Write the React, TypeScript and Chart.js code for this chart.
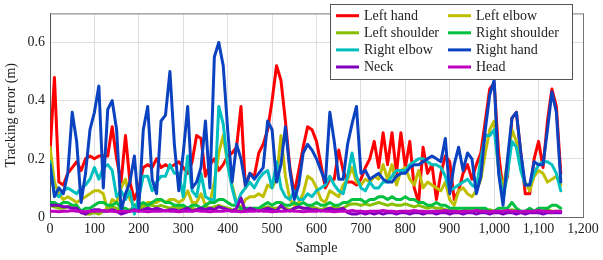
import { useEffect, useRef } from "react";
import { Chart, registerables } from "chart.js";

Chart.register(...registerables);

// ---- Data (sampled every 10 samples, from 0 to 1150) ----
const SAMPLE_STEP = 10;

const X_TICKS = [0, 100, 200, 300, 400, 500, 600, 700, 800, 900, 1000, 1100, 1200];
const X_TICK_LABELS = ["0", "100", "200", "300", "400", "500", "600", "700", "800", "900", "1,000", "1,100", "1,200"];
const Y_TICKS = [0, 0.2, 0.4, 0.6];
const Y_TICK_LABELS = ["0", "0.2", "0.4", "0.6"];

const SERIES_NAMES = ["Left hand", "Left elbow", "Left shoulder", "Right shoulder", "Right elbow", "Right hand", "Neck", "Head"];
const SERIES_COLORS = ["#ff0000", "#bfbf00", "#86c000", "#00c040", "#00bfbf", "#0b42c0", "#7f00bf", "#c000c0"];

const LEFT_HAND = [
  0.22, 0.48, 0.12, 0.11, 0.15, 0.17, 0.19, 0.16, 0.20, 0.21,
  0.20, 0.21, 0.21, 0.21, 0.31, 0.20, 0.12, 0.28, 0.12, 0.06,
  0.10, 0.17, 0.18, 0.17, 0.20, 0.17, 0.18, 0.17, 0.18, 0.19,
  0.17, 0.15, 0.19, 0.28, 0.27, 0.14, 0.18, 0.20, 0.16, 0.18,
  0.21, 0.22, 0.24, 0.38, 0.10, 0.15, 0.14, 0.22, 0.25, 0.30,
  0.40, 0.52, 0.47, 0.33, 0.17, 0.08, 0.16, 0.24, 0.31, 0.30,
  0.26, 0.18, 0.10, 0.13, 0.13, 0.23, 0.16, 0.12, 0.12, 0.11,
  0.13, 0.17, 0.20, 0.26, 0.17, 0.29, 0.18, 0.29, 0.15, 0.29,
  0.17, 0.26, 0.10, 0.05, 0.24, 0.15, 0.18, 0.06, 0.15, 0.21,
  0.19, 0.06, 0.09, 0.15, 0.18, 0.13, 0.18, 0.22, 0.33, 0.44,
  0.46, 0.22, 0.09, 0.14, 0.34, 0.36, 0.22, 0.08, 0.08, 0.20,
  0.26, 0.17, 0.33, 0.44, 0.38, 0.15,
];

const LEFT_ELBOW = [
  0.24, 0.12, 0.08, 0.06, 0.07, 0.06, 0.05, 0.06, 0.07, 0.08,
  0.09, 0.09, 0.08, 0.02, 0.06, 0.05, 0.10, 0.13, 0.06, 0.04,
  0.03, 0.04, 0.05, 0.05, 0.05, 0.06, 0.05, 0.06, 0.06, 0.05,
  0.06, 0.09, 0.05, 0.05, 0.08, 0.04, 0.05, 0.12, 0.22, 0.28,
  0.18, 0.11, 0.05, 0.03, 0.06, 0.07, 0.07, 0.08, 0.07, 0.11,
  0.10, 0.13, 0.28, 0.14, 0.06, 0.04, 0.05, 0.08, 0.14, 0.13,
  0.10, 0.06, 0.05, 0.09, 0.08, 0.07, 0.11, 0.13, 0.17, 0.12,
  0.11, 0.13, 0.12, 0.14, 0.13, 0.18, 0.13, 0.18, 0.11, 0.16,
  0.17, 0.13, 0.11, 0.16, 0.10, 0.12, 0.11, 0.10, 0.09, 0.12,
  0.06, 0.04, 0.09, 0.10, 0.08, 0.07, 0.09, 0.13, 0.22, 0.30,
  0.33, 0.16, 0.10, 0.19, 0.30, 0.26, 0.17, 0.12, 0.09, 0.14,
  0.16, 0.15, 0.12, 0.13, 0.14, 0.11,
];

const LEFT_SHOULDER = [
  0.04, 0.035, 0.03, 0.03, 0.035, 0.04, 0.03, 0.02, 0.01, 0.01,
  0.015, 0.01, 0.02, 0.03, 0.035, 0.03, 0.02, 0.02, 0.025, 0.02,
  0.03, 0.035, 0.04, 0.04, 0.035, 0.04, 0.035, 0.03, 0.035, 0.03,
  0.035, 0.03, 0.03, 0.025, 0.03, 0.035, 0.03, 0.035, 0.04, 0.035,
  0.03, 0.025, 0.02, 0.025, 0.02, 0.025, 0.03, 0.025, 0.03, 0.035,
  0.03, 0.03, 0.035, 0.03, 0.025, 0.03, 0.035, 0.03, 0.03, 0.035,
  0.03, 0.025, 0.03, 0.03, 0.035, 0.03, 0.03, 0.04, 0.045, 0.045,
  0.04, 0.045, 0.04, 0.045, 0.05, 0.045, 0.04, 0.045, 0.04, 0.04,
  0.045, 0.04, 0.035, 0.04, 0.035, 0.03, 0.035, 0.03, 0.03, 0.025,
  0.02, 0.025, 0.02, 0.02, 0.025, 0.02, 0.02, 0.025, 0.02, 0.025,
  0.02, 0.02, 0.015, 0.02, 0.025, 0.02, 0.02, 0.015, 0.02, 0.02,
  0.02, 0.02, 0.025, 0.02, 0.02, 0.02,
];

const RIGHT_SHOULDER = [
  0.05, 0.05, 0.04, 0.05, 0.05, 0.04, 0.04, 0.02, 0.03, 0.03,
  0.04, 0.05, 0.05, 0.04, 0.04, 0.05, 0.03, 0.03, 0.02, 0.04,
  0.04, 0.05, 0.04, 0.05, 0.06, 0.06, 0.05, 0.05, 0.04, 0.04,
  0.04, 0.03, 0.04, 0.04, 0.03, 0.04, 0.05, 0.05, 0.06, 0.06,
  0.05, 0.04, 0.04, 0.03, 0.03, 0.03, 0.03, 0.03, 0.04, 0.05,
  0.04, 0.05, 0.05, 0.04, 0.04, 0.05, 0.04, 0.05, 0.04, 0.04,
  0.05, 0.04, 0.04, 0.05, 0.04, 0.04, 0.05, 0.05, 0.06, 0.06,
  0.06, 0.05, 0.06, 0.06, 0.07, 0.07, 0.06, 0.07, 0.06, 0.06,
  0.07, 0.06, 0.06, 0.05, 0.05, 0.04, 0.04, 0.05, 0.04, 0.04,
  0.03, 0.03, 0.03, 0.03, 0.03, 0.03, 0.03, 0.03, 0.03, 0.02,
  0.02, 0.03, 0.03, 0.03, 0.05, 0.03, 0.02, 0.02, 0.03, 0.02,
  0.03, 0.03, 0.03, 0.04, 0.04, 0.03,
];

const RIGHT_ELBOW = [
  0.19, 0.08, 0.07, 0.09, 0.10, 0.09, 0.08, 0.10, 0.11, 0.13,
  0.17, 0.13, 0.17, 0.18, 0.16, 0.07, 0.09, 0.06, 0.09, 0.01,
  0.07, 0.14, 0.14, 0.09, 0.12, 0.14, 0.14, 0.18, 0.15, 0.15,
  0.07, 0.21, 0.09, 0.07, 0.15, 0.07, 0.06, 0.06, 0.38, 0.32,
  0.18, 0.10, 0.04, 0.08, 0.10, 0.12, 0.10, 0.13, 0.15, 0.16,
  0.10, 0.19, 0.10, 0.07, 0.06, 0.09, 0.06, 0.06, 0.08, 0.07,
  0.09, 0.10, 0.11, 0.14, 0.11, 0.09, 0.08, 0.14, 0.22, 0.14,
  0.10, 0.09, 0.12, 0.10, 0.10, 0.12, 0.12, 0.14, 0.16, 0.16,
  0.16, 0.18, 0.19, 0.20, 0.20, 0.19, 0.18, 0.18, 0.17, 0.14,
  0.09, 0.10, 0.11, 0.12, 0.13, 0.11, 0.10, 0.20, 0.28, 0.28,
  0.30, 0.17, 0.06, 0.15, 0.26, 0.24, 0.16, 0.11, 0.11, 0.15,
  0.18, 0.19, 0.19, 0.18, 0.15, 0.09,
];

const RIGHT_HAND = [
  0.18, 0.07, 0.10, 0.08, 0.15, 0.36, 0.26, 0.05, 0.15, 0.30,
  0.36, 0.45, 0.10, 0.37, 0.40, 0.30, 0.02, 0.08, 0.12, 0.21,
  0.03, 0.30, 0.38, 0.13, 0.08, 0.33, 0.35, 0.50, 0.25, 0.09,
  0.22, 0.38, 0.10, 0.12, 0.17, 0.33, 0.10, 0.55, 0.60, 0.52,
  0.30, 0.12, 0.25, 0.20, 0.11, 0.15, 0.13, 0.15, 0.17, 0.33,
  0.30, 0.12, 0.18, 0.31, 0.16, 0.06, 0.11, 0.22, 0.25, 0.23,
  0.20, 0.16, 0.12, 0.36, 0.26, 0.13, 0.13, 0.25, 0.32, 0.38,
  0.15, 0.16, 0.13, 0.14, 0.15, 0.13, 0.12, 0.12, 0.14, 0.15,
  0.15, 0.17, 0.18, 0.18, 0.19, 0.20, 0.21, 0.20, 0.19, 0.27,
  0.08, 0.18, 0.24, 0.16, 0.22, 0.20, 0.08, 0.14, 0.30, 0.42,
  0.47, 0.15, 0.04, 0.20, 0.34, 0.36, 0.22, 0.11, 0.11, 0.19,
  0.18, 0.18, 0.30, 0.43, 0.36, 0.12,
];

const NECK = [
  0.04, 0.04, 0.04, 0.035, 0.035, 0.03, 0.03, 0.015, 0.01, 0.02,
  0.025, 0.025, 0.02, 0.02, 0.025, 0.02, 0.01, 0.015, 0.02, 0.025,
  0.02, 0.025, 0.03, 0.025, 0.03, 0.025, 0.02, 0.025, 0.025, 0.02,
  0.025, 0.03, 0.02, 0.025, 0.03, 0.025, 0.03, 0.025, 0.035, 0.03,
  0.025, 0.02, 0.03, 0.065, 0.02, 0.03, 0.025, 0.02, 0.025, 0.03,
  0.025, 0.02, 0.04, 0.025, 0.02, 0.03, 0.035, 0.03, 0.03, 0.025,
  0.025, 0.02, 0.025, 0.03, 0.025, 0.025, 0.03, 0.015, 0.01, 0.01,
  0.015, 0.01, 0.015, 0.01, 0.015, 0.01, 0.015, 0.015, 0.01, 0.015,
  0.015, 0.01, 0.015, 0.015, 0.01, 0.015, 0.015, 0.01, 0.015, 0.015,
  0.01, 0.015, 0.015, 0.01, 0.015, 0.015, 0.01, 0.015, 0.015, 0.01,
  0.015, 0.015, 0.01, 0.015, 0.015, 0.01, 0.015, 0.01, 0.015, 0.015,
  0.015, 0.01, 0.015, 0.015, 0.015, 0.015,
];

const HEAD = [
  0.02, 0.02, 0.018, 0.02, 0.02, 0.022, 0.02, 0.02, 0.018, 0.02,
  0.02, 0.02, 0.022, 0.02, 0.02, 0.018, 0.02, 0.02, 0.02, 0.022,
  0.02, 0.02, 0.018, 0.02, 0.02, 0.02, 0.022, 0.02, 0.02, 0.018,
  0.02, 0.02, 0.02, 0.022, 0.02, 0.02, 0.018, 0.02, 0.02, 0.02,
  0.022, 0.02, 0.02, 0.018, 0.02, 0.02, 0.02, 0.022, 0.02, 0.02,
  0.018, 0.02, 0.02, 0.02, 0.022, 0.02, 0.02, 0.018, 0.02, 0.02,
  0.02, 0.022, 0.02, 0.02, 0.018, 0.02, 0.02, 0.02, 0.022, 0.02,
  0.02, 0.018, 0.02, 0.02, 0.02, 0.022, 0.02, 0.02, 0.018, 0.02,
  0.02, 0.02, 0.022, 0.02, 0.02, 0.018, 0.02, 0.02, 0.02, 0.022,
  0.02, 0.02, 0.018, 0.02, 0.02, 0.02, 0.022, 0.02, 0.02, 0.018,
  0.02, 0.02, 0.02, 0.022, 0.02, 0.02, 0.018, 0.02, 0.02, 0.02,
  0.022, 0.02, 0.02, 0.018, 0.02, 0.02,
];

const SERIES_VALUES = [LEFT_HAND, LEFT_ELBOW, LEFT_SHOULDER, RIGHT_SHOULDER, RIGHT_ELBOW, RIGHT_HAND, NECK, HEAD];

const FONT_FAMILY = "'Liberation Serif', 'Times New Roman', serif";
const TEXT_COLOR = "#222";

const frameAndLegend = {
  id: "frameAndLegend",
  afterDatasetsDraw(chart: any) {
    const { ctx, chartArea } = chart;
    ctx.save();
    ctx.strokeStyle = "#777";
    ctx.lineWidth = 1;
    ctx.beginPath();
    ctx.moveTo(Math.round(chartArea.right) + 0.5, chartArea.top);
    ctx.lineTo(Math.round(chartArea.right) + 0.5, chartArea.bottom);
    ctx.moveTo(chartArea.left, chartArea.top + 0.5);
    ctx.lineTo(chartArea.right, chartArea.top + 0.5);
    ctx.stroke();

    // Legend box (two columns, four rows)
    const boxX = 330.5;
    const boxY = 4.5;
    const boxW = 242;
    const boxH = 75;
    ctx.fillStyle = "#ffffff";
    ctx.fillRect(boxX, boxY, boxW, boxH);
    ctx.strokeStyle = "#555";
    ctx.strokeRect(boxX, boxY, boxW, boxH);

    ctx.font = `14px ${FONT_FAMILY}`;
    ctx.textBaseline = "middle";
    ctx.textAlign = "left";
    SERIES_NAMES.forEach((name, i) => {
      const col = i % 2;
      const row = Math.floor(i / 2);
      const y = 15.7 + row * 17.1;
      const lx = col === 0 ? 336 : 448;
      const tx = col === 0 ? 364 : 476;
      ctx.strokeStyle = SERIES_COLORS[i];
      ctx.lineWidth = 3;
      ctx.beginPath();
      ctx.moveTo(lx, y);
      ctx.lineTo(lx + 23, y);
      ctx.stroke();
      ctx.fillStyle = TEXT_COLOR;
      ctx.fillText(name, tx, y + 0.5);
    });
    ctx.restore();
  },
};

export default function App() {
  const canvasRef = useRef<HTMLCanvasElement | null>(null);

  useEffect(() => {
    const canvas = canvasRef.current;
    if (!canvas) return;

    const datasets = SERIES_VALUES.map((values, i) => ({
      label: SERIES_NAMES[i],
      data: values.map((v, k) => ({ x: k * SAMPLE_STEP, y: v })),
      borderColor: SERIES_COLORS[i],
      backgroundColor: SERIES_COLORS[i],
      borderWidth: 3,
      pointRadius: 0,
      tension: 0,
      fill: false,
      borderJoinStyle: "round" as const,
      borderCapStyle: "round" as const,
      order: SERIES_VALUES.length - i,
    }));

    const font = { family: FONT_FAMILY, size: 14 };

    const chart = new Chart(canvas, {
      type: "line",
      data: { datasets },
      options: {
        animation: false,
        responsive: false,
        maintainAspectRatio: false,
        layout: { padding: { left: 0, right: 20, top: 0, bottom: 0 } },
        plugins: {
          legend: { display: false },
          tooltip: { enabled: false },
        },
        scales: {
          x: {
            type: "linear",
            min: 0,
            max: 1200,
            afterFit: (scale: any) => {
              scale.height = 43;
            },
            afterBuildTicks: (scale: any) => {
              scale.ticks = X_TICKS.map((v) => ({ value: v }));
            },
            ticks: {
              autoSkip: false,
              maxRotation: 0,
              padding: 4,
              color: TEXT_COLOR,
              font,
              callback: (_v: any, index: number) => X_TICK_LABELS[index],
            },
            grid: { color: "#dedede", drawTicks: false, lineWidth: 1 },
            border: { color: "#666", width: 1 },
            title: {
              display: true,
              text: "Sample",
              color: TEXT_COLOR,
              font,
              padding: { top: 0, bottom: 3 },
            },
          },
          y: {
            type: "linear",
            min: 0,
            max: 0.7,
            afterFit: (scale: any) => {
              scale.width = 50;
            },
            afterBuildTicks: (scale: any) => {
              scale.ticks = Y_TICKS.map((v) => ({ value: v }));
            },
            ticks: {
              autoSkip: false,
              padding: 5,
              color: TEXT_COLOR,
              font,
              callback: (_v: any, index: number) => Y_TICK_LABELS[index],
            },
            grid: { color: "#dedede", drawTicks: false, lineWidth: 1 },
            border: { color: "#555", width: 1 },
            title: {
              display: true,
              text: "Tracking error (m)",
              color: TEXT_COLOR,
              font,
              padding: { top: 3, bottom: 0 },
            },
          },
        },
      },
      plugins: [frameAndLegend],
    });

    return () => {
      chart.destroy();
    };
  }, []);

  return (
    <div style={{ position: "fixed", left: 0, top: 0, width: 603, height: 260, background: "#fff" }}>
      <canvas ref={canvasRef} width={603} height={260} style={{ display: "block", width: 603, height: 260 }} />
    </div>
  );
}
